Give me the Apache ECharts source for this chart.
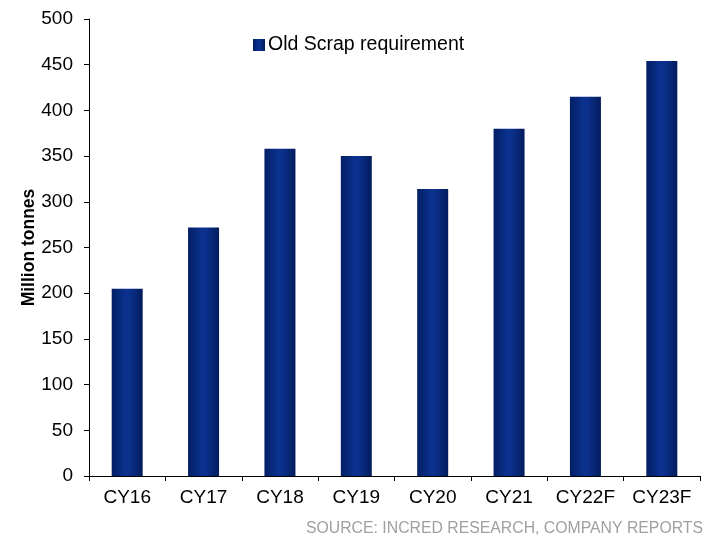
<!DOCTYPE html>
<html>
<head>
<meta charset="utf-8">
<script src="https://cdn.jsdelivr.net/npm/echarts@6/dist/echarts.min.js"></script>
<style>
  html, body { margin: 0; padding: 0; background: #fff; }
  #chart { width: 707px; height: 541px; }
</style>
</head>
<body>
<div id="chart"></div>
<script>
// Old scrap requirement by calendar year (million tonnes)
const categories = ['CY16', 'CY17', 'CY18', 'CY19', 'CY20', 'CY21', 'CY22F', 'CY23F'];
const scrapValues = [205, 272, 358, 350, 314, 380, 415, 454];
const yTicks = { min: 0, max: 500, interval: 50 };
const seriesName = 'Old Scrap requirement';
const axisTitle = 'Million tonnes';
const sourceNote = 'SOURCE: INCRED RESEARCH, COMPANY REPORTS';

const font = '"Liberation Sans", Arial, sans-serif';

// Cylinder-like shading across each bar
const barFill = new echarts.graphic.LinearGradient(0, 0, 1, 0, [
  { offset: 0, color: '#021e63' },
  { offset: 0.45, color: '#0c3290' },
  { offset: 0.6, color: '#0b2f8a' },
  { offset: 1, color: '#021c5c' }
]);

const chart = echarts.init(document.getElementById('chart'), null, { renderer: 'canvas' });
chart.setOption({
  animation: false,
  backgroundColor: '#ffffff',
  grid: { left: 89, right: 7, top: 19, bottom: 65, containLabel: false },
  legend: {
    data: [{ name: seriesName, icon: 'rect' }],
    left: 248,
    top: 30,
    itemWidth: 12,
    itemHeight: 12,
    itemGap: 4,
    textStyle: { fontFamily: font, fontSize: 19.5, color: '#000', padding: [0, 0, 0, -2] }
  },
  graphic: [{
    type: 'text',
    right: 4,
    top: 521,
    style: { text: sourceNote, fontFamily: font, fontSize: 15.8, fill: '#a0a0a0' }
  }],
  xAxis: {
    type: 'category',
    data: categories,
    axisLine: { lineStyle: { color: '#000', width: 1 } },
    axisTick: { show: true, alignWithLabel: false, interval: 0, length: 5, lineStyle: { color: '#000' } },
    axisLabel: { fontFamily: font, fontSize: 19, color: '#000', margin: 12, interval: 0, hideOverlap: false },
    splitLine: { show: false }
  },
  yAxis: {
    type: 'value',
    min: yTicks.min,
    max: yTicks.max,
    interval: yTicks.interval,
    name: axisTitle,
    nameLocation: 'middle',
    nameGap: 51,
    nameMoveOverlap: false,
    nameRotate: 90,
    nameTextStyle: { fontFamily: font, fontSize: 17.5, fontWeight: 'bold', color: '#000' },
    axisLine: { show: true, lineStyle: { color: '#000', width: 1 } },
    axisTick: { show: true, length: 5, lineStyle: { color: '#000' } },
    axisLabel: { fontFamily: font, fontSize: 19, color: '#000', margin: 16 },
    splitLine: { show: false }
  },
  series: [{
    name: seriesName,
    type: 'bar',
    data: scrapValues,
    barWidth: 31,
    itemStyle: { color: barFill },
    emphasis: { disabled: true }
  }]
});
</script>
</body>
</html>
